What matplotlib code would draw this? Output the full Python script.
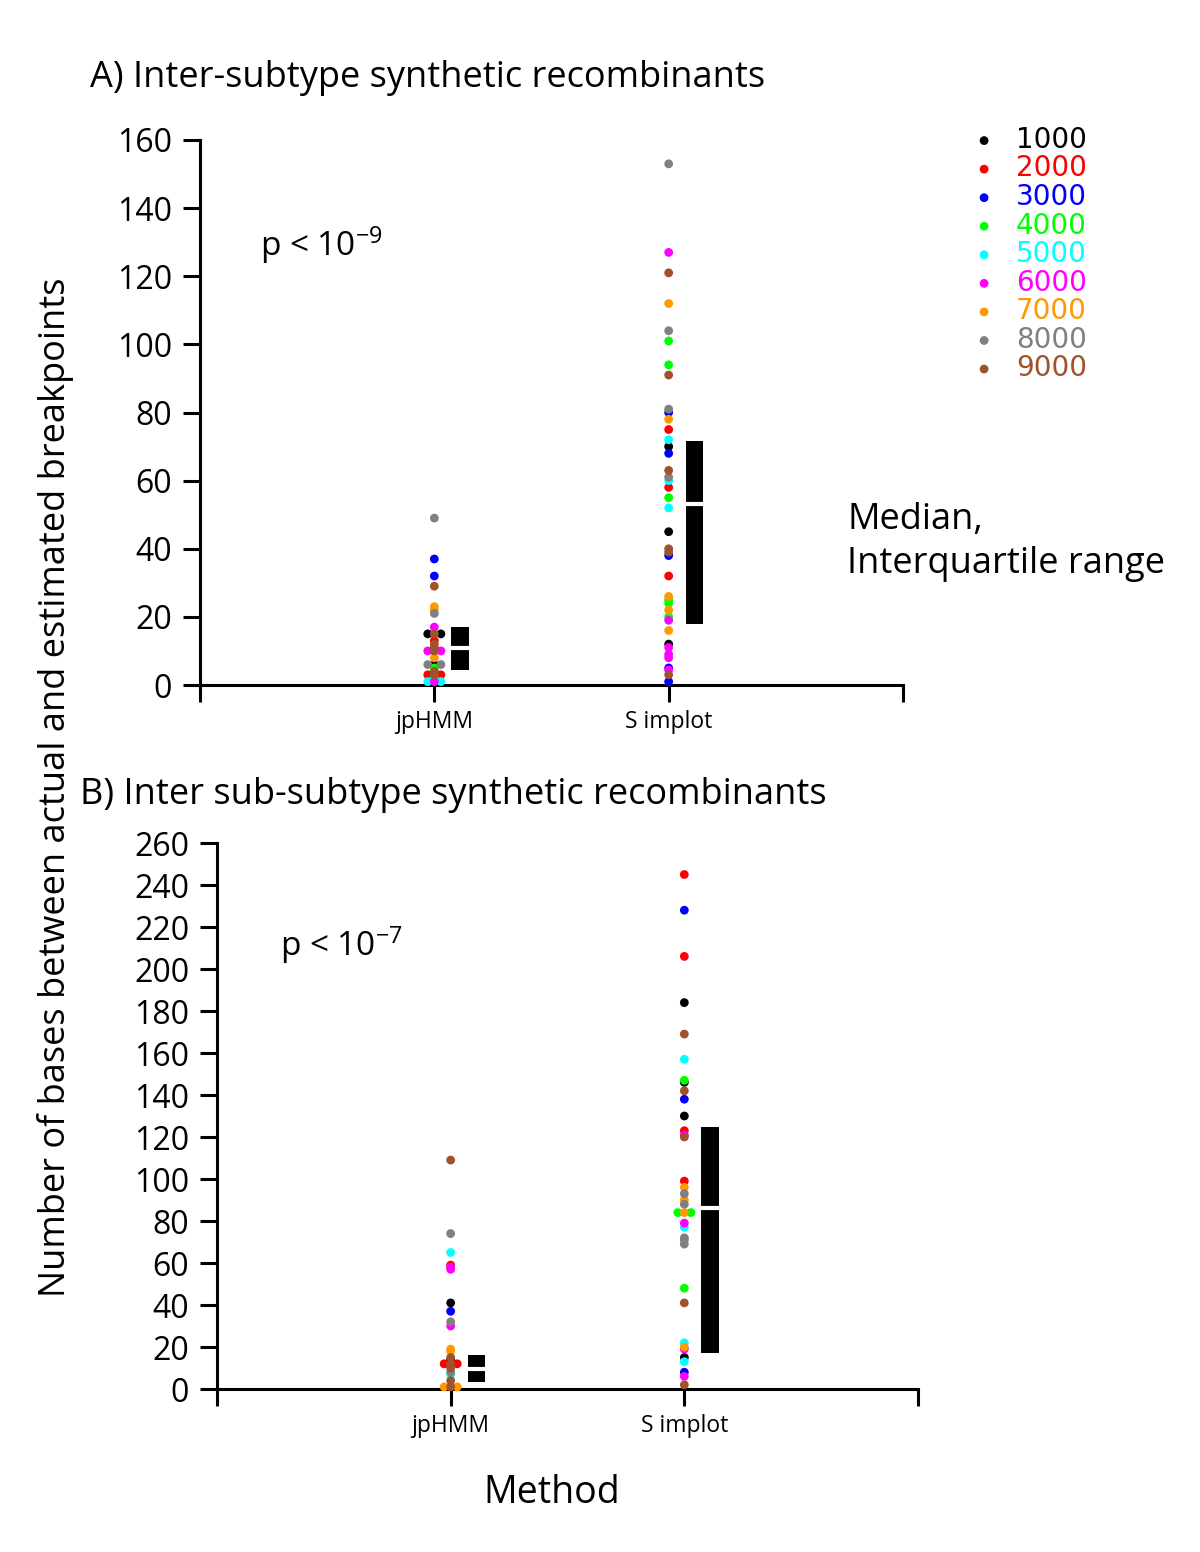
import matplotlib
matplotlib.use("Agg")
import matplotlib.pyplot as plt
import numpy as np

plt.rcParams["font.family"] = ["Open Sans", "DejaVu Sans"]
plt.rcParams["mathtext.fontset"] = "custom"
plt.rcParams["mathtext.rm"] = "Open Sans"
plt.rcParams["mathtext.default"] = "regular"

# series (sequence length) and their colours
series = [1000, 2000, 3000, 4000, 5000, 6000, 7000, 8000, 9000]
colors = ["#000000", "#ff0000", "#0000ff", "#00ff00", "#00ffff",
          "#ff00ff", "#ff9900", "#808080", "#a0522d"]
methods = ["jpHMM", "S implot"]

# A) inter-subtype: jpHMM
a_jp_vals = [49, 37, 32, 29, 23, 22, 21, 17, 15, 15, 15, 13, 12, 11, 10, 10, 10,
             8, 6, 6, 6, 5, 4, 3, 3, 3, 2, 1, 1, 1]
a_jp_ser = [8000, 3000, 3000, 9000, 7000, 7000, 8000, 6000, 1000, 9000, 1000, 2000,
            9000, 9000, 6000, 9000, 6000, 7000, 8000, 1000, 8000, 4000, 9000,
            2000, 9000, 2000, 5000, 5000, 6000, 5000]
# A) inter-subtype: Simplot
a_sp_vals = [153, 127, 121, 112, 104, 101, 94, 91, 81, 80, 78, 75, 72, 70, 68, 63,
             61, 60, 58, 55, 52, 45, 40, 39, 38, 32, 26, 25, 24, 22, 20, 19, 16,
             12, 11, 9, 8, 5, 4.4, 3, 1]
a_sp_ser = [8000, 6000, 9000, 7000, 8000, 4000, 4000, 9000, 8000, 3000, 7000, 2000,
            5000, 1000, 3000, 9000, 8000, 5000, 2000, 4000, 5000, 1000, 9000, 9000,
            3000, 2000, 7000, 4000, 4000, 7000, 4000, 6000, 7000, 1000, 6000, 6000,
            6000, 3000, 6000, 9000, 3000]

# B) inter sub-subtype: jpHMM
b_jp_vals = [109, 74, 65, 59, 58, 57, 41, 37, 32, 30, 19, 18, 15, 14, 12, 12, 12,
             10, 8, 7, 4, 1, 1, 1]
b_jp_ser = [9000, 8000, 5000, 2000, 6000, 6000, 1000, 3000, 8000, 6000, 7000, 7000,
            9000, 1000, 2000, 9000, 2000, 9000, 8000, 5000, 9000, 7000, 9000, 7000]
# B) inter sub-subtype: Simplot
b_sp_vals = [245, 228, 206, 184, 169, 157, 147, 146, 142, 138, 130, 123, 121, 120,
             99, 96, 93, 90, 88, 84, 84, 84, 79, 77, 72, 71, 69, 48, 41, 22, 20,
             19, 15, 13, 8, 6, 2]
b_sp_ser = [2000, 3000, 2000, 1000, 9000, 5000, 4000, 1000, 9000, 3000, 1000, 2000,
            6000, 9000, 2000, 7000, 8000, 7000, 8000, 4000, 7000, 4000, 6000, 5000,
            8000, 8000, 8000, 4000, 9000, 5000, 7000, 6000, 1000, 5000, 3000, 6000,
            9000]

# median and interquartile range (q1, median, q3)
a_stats = [(4.5, 11, 17), (18, 53, 71.5)]
b_stats = [(3.5, 9.5, 16), (17, 86, 125)]


def jitter(vals, dx=0.028):
    vals = np.asarray(vals, dtype=float)
    off = np.zeros(len(vals))
    for v in np.unique(vals):
        idx = np.where(vals == v)[0]
        n = len(idx)
        off[idx] = (np.arange(n) - (n - 1) / 2.0) * dx
    return off


def draw_panel(ax, groups, stats, ymax, ystep):
    for k, (vals, ser) in enumerate(groups):
        vals = np.asarray(vals, dtype=float)
        ser = np.asarray(ser)
        xs = k + 1 + jitter(vals)
        for s, c in zip(series, colors):
            m = ser == s
            if not m.any():
                continue
            ax.scatter(xs[m], vals[m], s=40, color=c, edgecolors="none",
                       zorder=3, label=str(s), clip_on=False)
    for k, (q1, med, q3) in enumerate(stats):
        xc = k + 1 + 0.11
        ax.bar(xc, q3 - q1, bottom=q1, width=0.074, color="black", zorder=2)
        ax.hlines(med, xc - 0.045, xc + 0.045, color="white", lw=3, zorder=2.5)
    ax.set_xlim(0, 3)
    ax.set_ylim(0, ymax)
    ax.set_yticks(np.arange(0, ymax + 1, ystep))
    ax.set_xticks([0, 1, 2, 3])
    ax.set_xticklabels(["", methods[0], methods[1], ""], fontsize=16.5)
    for sp in ["top", "right"]:
        ax.spines[sp].set_visible(False)
    for sp in ["left", "bottom"]:
        ax.spines[sp].set_linewidth(2.2)
    ax.tick_params(axis="y", length=12, width=2.2, labelsize=23, pad=8)
    ax.tick_params(axis="x", length=12, width=2.2, pad=6)


fig = plt.figure(figsize=(12, 15.52), dpi=100)

ax1 = fig.add_axes([200 / 1200, 1 - 685 / 1552, 703 / 1200, 545 / 1552])
draw_panel(ax1, [(a_jp_vals, a_jp_ser), (a_sp_vals, a_sp_ser)], a_stats, 160, 20)
ax1.text(0.085, 0.807, r"p < 10$^{-9}$", transform=ax1.transAxes, fontsize=24,
         va="center", ha="left")

ax2 = fig.add_axes([217 / 1200, 1 - 1389 / 1552, 701 / 1200, 546 / 1552])
draw_panel(ax2, [(b_jp_vals, b_jp_ser), (b_sp_vals, b_sp_ser)], b_stats, 260, 20)
ax2.text(0.09, 0.813, r"p < 10$^{-7}$", transform=ax2.transAxes, fontsize=24,
         va="center", ha="left")

# legend with coloured labels
handles, labels = ax1.get_legend_handles_labels()
fig.legend(handles[:9], labels[:9], loc="upper left",
           bbox_to_anchor=(0.79, 0.935), frameon=False,
           prop={"family": "DejaVu Sans", "size": 20},
           labelcolor=colors, handletextpad=0.75, labelspacing=0.02,
           markerscale=1.0, handlelength=0.8)

fig.text(0.075, 0.95, "A) Inter-subtype synthetic recombinants", fontsize=26,
         va="center", ha="left")
fig.text(0.0667, 0.488, "B) Inter sub-subtype synthetic recombinants", fontsize=26,
         va="center", ha="left")
fig.text(0.706, 0.651, "Median,\nInterquartile range", fontsize=26, va="center",
         ha="left", linespacing=1.3)
fig.text(0.046, 0.493, "Number of bases between actual and estimated breakpoints",
         rotation=90, fontsize=26, va="center", ha="center")
fig.text(0.46, 0.038, "Method", fontsize=27, va="center", ha="center")

fig.savefig("out.png", dpi=100, facecolor="white")
